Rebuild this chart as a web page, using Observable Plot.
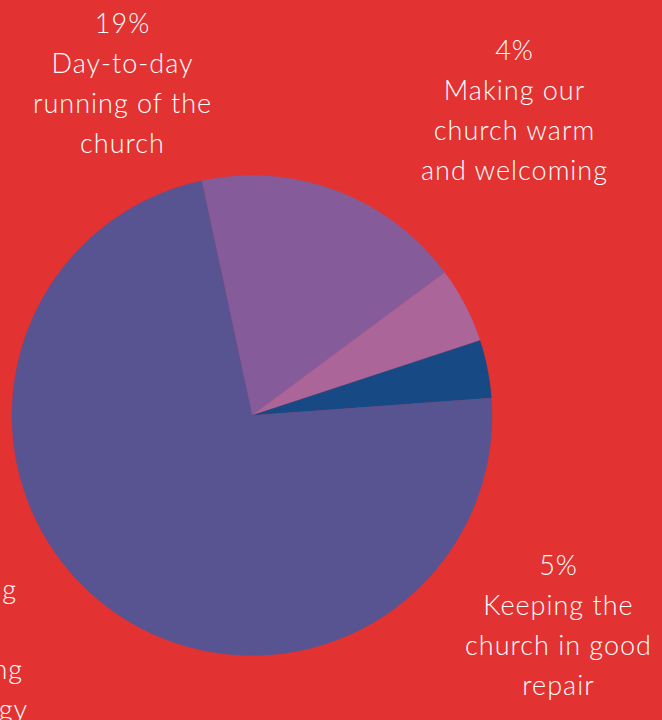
<!DOCTYPE html>
<html>
<head>
<meta charset="utf-8">
<script src="https://cdn.jsdelivr.net/npm/d3@7"></script>
<script src="https://cdn.jsdelivr.net/npm/@observablehq/plot@0.6"></script>
<style>
  html, body { margin: 0; padding: 0; background: #e33232; }
  #chart { width: 662px; height: 720px; overflow: hidden; }
  #chart svg text { letter-spacing: 1px; }
</style>
</head>
<body>
<div id="chart"></div>
<script>
// Data (clockwise, starting at the slice edge just left of 12 o'clock)
const categories = ["Day-to-day running of the church", "Keeping the church in good repair", "Making our church warm and welcoming", "Supporting ministry and training of our clergy"];
const shares = [18.2, 5.1, 3.9, 72.8];           // measured slice sizes (%)
const percentLabels = ["19%", "5%", "4%", "72%"]; // printed labels
const labelLines = [
  ["Day-to-day", "running of the", "church"],
  ["Keeping the", "church in good", "repair"],
  ["Making our", "church warm", "and welcoming"],
  ["Supporting", "ministry", "and training", "of our clergy"]
];
const colors = ["#865b99", "#ac6599", "#174a84", "#575491"];

const W = 662, H = 720;
const cx = 251.5, cy = 415, R = 240; // layout of the pie in pixels
const startDeg = -12.1;

// Build slice polygons from the shares with d3.pie
const pie = d3.pie().sort(null).startAngle(startDeg * Math.PI / 180).endAngle(startDeg * Math.PI / 180 + 2 * Math.PI);
const arcs = pie(shares);
const pts = [];
arcs.forEach((a, i) => {
  const cat = categories[i];
  pts.push({cat, x: 0, y: 0});
  const n = Math.max(4, Math.ceil((a.endAngle - a.startAngle) / (Math.PI / 720)));
  for (let k = 0; k <= n; k++) {
    const t = a.startAngle + (a.endAngle - a.startAngle) * k / n;
    pts.push({cat, x: Math.sin(t), y: Math.cos(t)});
  }
  pts.push({cat, x: 0, y: 0});
});

// Label blocks (text from the data arrays, placement is layout)
const labelLayout = [
  {dx: 122, dy: 80},
  {dx: 558, dy: 622},
  {dx: 514, dy: 106.5},
  {dx: -52, dy: 626}
];
const textMarks = categories.map((c, i) => Plot.text([[percentLabels[i], ...labelLines[i]].join("\n")], {
  text: d => d,
  frameAnchor: "top-left",
  dx: labelLayout[i].dx,
  dy: labelLayout[i].dy,
  textAnchor: "middle",
  lineAnchor: "middle",
  lineHeight: 40 / 27,
  fontSize: 27,
  fontWeight: 300,
  fill: "white"
}));

const chart = Plot.plot({
  width: W,
  height: H,
  margin: 0,
  style: {background: "#e33232", fontFamily: "Lato, 'Open Sans', sans-serif", overflow: "hidden"},
  x: {domain: [-cx / R, (W - cx) / R], axis: null},
  y: {domain: [-(H - cy) / R, cy / R], axis: null},
  color: {domain: categories, range: colors},
  marks: [
    Plot.line(pts, {x: "x", y: "y", z: "cat", fill: "cat", stroke: "cat", strokeWidth: 0.3, curve: "linear"}),
    ...textMarks
  ]
});
document.getElementById("chart").appendChild(chart);
</script>
</body>
</html>
